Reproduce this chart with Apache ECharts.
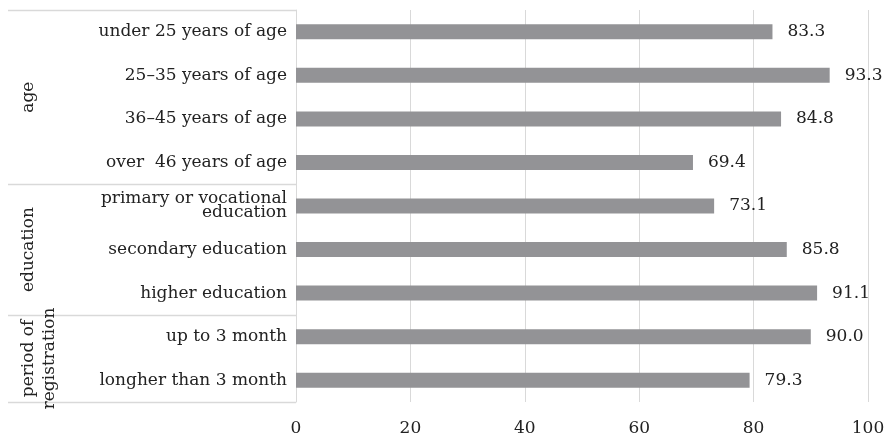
<!DOCTYPE html>
<html>
<head>
<meta charset="utf-8">
<script src="https://cdn.jsdelivr.net/npm/echarts@6/dist/echarts.min.js"></script>
<style>
  html, body { margin: 0; padding: 0; background: #fff; }
  #chart { width: 889px; height: 439px; }
</style>
</head>
<body>
<div id="chart"></div>
<script>
// Respondent groups and their shares (%)
const categories = [
  'under 25 years of age',
  '25\u201335 years of age',
  '36\u201345 years of age',
  'over  46 years of age',
  'primary or vocational\neducation',
  'secondary education',
  'higher education',
  'up to 3 month',
  'longher than 3 month'
];
const values = [83.3, 93.3, 84.8, 69.4, 73.1, 85.8, 91.1, 90.0, 79.3];

// Grouping of the categories (first index, last index)
const groupNames = ['age', 'education', 'period of\nregistration'];
const groupStarts = [0, 4, 7];
const groupEnds = [3, 6, 8];

const xTicks = [0, 20, 40, 60, 80, 100];

const FONT = 'DejaVu Serif';
const TEXT = '#222222';
const LINE = '#d9d9d9';

const chart = echarts.init(document.getElementById('chart'), null, { renderer: 'canvas' });

const gridTop = 10, gridBottom = 37, gridLeft = 296, gridRight = 21;

chart.setOption({
  animation: false,
  grid: { top: gridTop, bottom: gridBottom, left: gridLeft, right: gridRight, containLabel: false },
  xAxis: {
    type: 'value',
    min: xTicks[0],
    max: xTicks[xTicks.length - 1],
    interval: 20,
    axisLine: { show: false },
    axisTick: { show: false },
    splitLine: { lineStyle: { color: LINE, width: 1 } },
    axisLabel: { fontFamily: FONT, fontSize: 17, color: TEXT, margin: 18 }
  },
  yAxis: {
    type: 'category',
    inverse: true,
    data: categories,
    axisLine: { show: true, lineStyle: { color: LINE, width: 1 } },
    axisTick: { show: false },
    axisLabel: {
      fontFamily: FONT, fontSize: 17, color: TEXT, margin: 9,
      lineHeight: 14, align: 'right'
    }
  },
  series: [{
    type: 'bar',
    data: values,
    barWidth: 15,
    itemStyle: { color: '#939396' },
    label: {
      show: true,
      position: 'right',
      distance: 15,
      fontFamily: FONT,
      fontSize: 17,
      color: TEXT,
      formatter: p => p.value.toFixed(1)
    }
  }]
});

// Group brackets on the left: separator lines and rotated group names
const n = categories.length;
const plotH = 439 - gridTop - gridBottom;
const band = plotH / n;
const edgeY = i => chart.convertToPixel({ yAxisIndex: 0 }, i) - band / 2;
const lastEdgeY = i => chart.convertToPixel({ yAxisIndex: 0 }, i) + band / 2;

const graphics = [];
const lineLeft = 8;
const boundaries = [edgeY(0)];
groupEnds.forEach(e => boundaries.push(lastEdgeY(e)));
boundaries.forEach(y => {
  const yy = Math.round(y) + 0.5;
  graphics.push({
    type: 'line',
    shape: { x1: lineLeft, y1: yy, x2: gridLeft, y2: yy },
    style: { stroke: LINE, lineWidth: 1.5 },
    silent: true
  });
});
groupNames.forEach((name, g) => {
  const y0 = edgeY(groupStarts[g]);
  const y1 = lastEdgeY(groupEnds[g]);
  const multi = name.indexOf('\n') >= 0;
  graphics.push({
    type: 'text',
    x: multi ? 39 : 29,
    y: (y0 + y1) / 2,
    rotation: Math.PI / 2,
    style: {
      text: name,
      fontFamily: FONT,
      fontSize: 17,
      fill: TEXT,
      align: 'center',
      verticalAlign: 'middle',
      lineHeight: 21
    },
    silent: true
  });
});
chart.setOption({ graphic: graphics });
</script>
</body>
</html>
